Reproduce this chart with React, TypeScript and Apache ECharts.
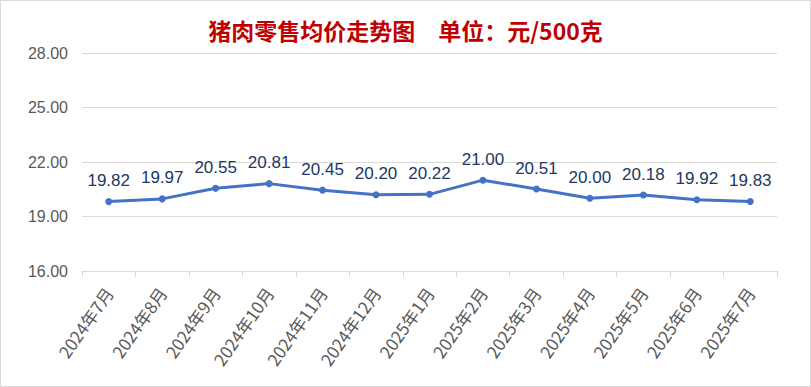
import React, { useEffect, useRef } from "react";
import * as echarts from "echarts";

const categories = [
  "2024年7月", "2024年8月", "2024年9月", "2024年10月", "2024年11月", "2024年12月",
  "2025年1月", "2025年2月", "2025年3月", "2025年4月", "2025年5月", "2025年6月", "2025年7月",
];
const prices = [19.82, 19.97, 20.55, 20.81, 20.45, 20.2, 20.22, 21.0, 20.51, 20.0, 20.18, 19.92, 19.83];
const titleText = "猪肉零售均价走势图　单位：元/500克";
const yMin = 16;
const yMax = 28;
const yInterval = 3;

export default function App() {
  const ref = useRef<HTMLDivElement>(null);
  useEffect(() => {
    document.body.style.margin = "0";
    const chart = echarts.init(ref.current!, undefined, { renderer: "svg" });
    chart.setOption({
      animation: false,
      backgroundColor: "#ffffff",
      title: {
        text: titleText,
        left: "center",
        top: 12,
        textStyle: {
          color: "#C00000",
          fontSize: 23,
          fontWeight: "bold",
          fontFamily: "Noto Sans CJK SC",
        },
      },
      grid: { left: 81, right: 33, top: 52, bottom: 115, containLabel: false },
      xAxis: {
        type: "category",
        data: categories,
        boundaryGap: true,
        axisLine: { lineStyle: { color: "#d9d9d9", width: 1 } },
        axisTick: { show: true, length: 6, inside: false, lineStyle: { color: "#d9d9d9" } },
        axisLabel: {
          rotate: 55,
          color: "#595959",
          fontSize: 17,
          fontFamily: "Noto Sans CJK SC",
          interval: 0,
          margin: 18,
        },
      },
      yAxis: {
        type: "value",
        min: yMin,
        max: yMax,
        interval: yInterval,
        axisLine: { show: false },
        axisTick: { show: false },
        splitLine: { lineStyle: { color: "#d9d9d9", width: 1 } },
        axisLabel: {
          color: "#595959",
          fontSize: 16,
          fontFamily: "Liberation Sans",
          formatter: (v: number) => v.toFixed(2),
          margin: 14,
        },
      },
      series: [
        {
          type: "line",
          data: prices,
          symbol: "circle",
          symbolSize: 7,
          lineStyle: { color: "#4472C4", width: 3 },
          itemStyle: { color: "#4472C4" },
          label: {
            show: true,
            position: "top",
            distance: 9,
            color: "#203864",
            fontSize: 17,
            fontFamily: "Liberation Sans",
            formatter: (p: any) => Number(p.value).toFixed(2),
          },
        },
      ],
    });
    return () => chart.dispose();
  }, []);
  return (
    <div
      ref={ref}
      style={{
        position: "fixed",
        left: 0,
        top: 0,
        width: 811,
        height: 387,
        boxSizing: "border-box",
        border: "1px solid #d9d9d9",
      }}
    />
  );
}
